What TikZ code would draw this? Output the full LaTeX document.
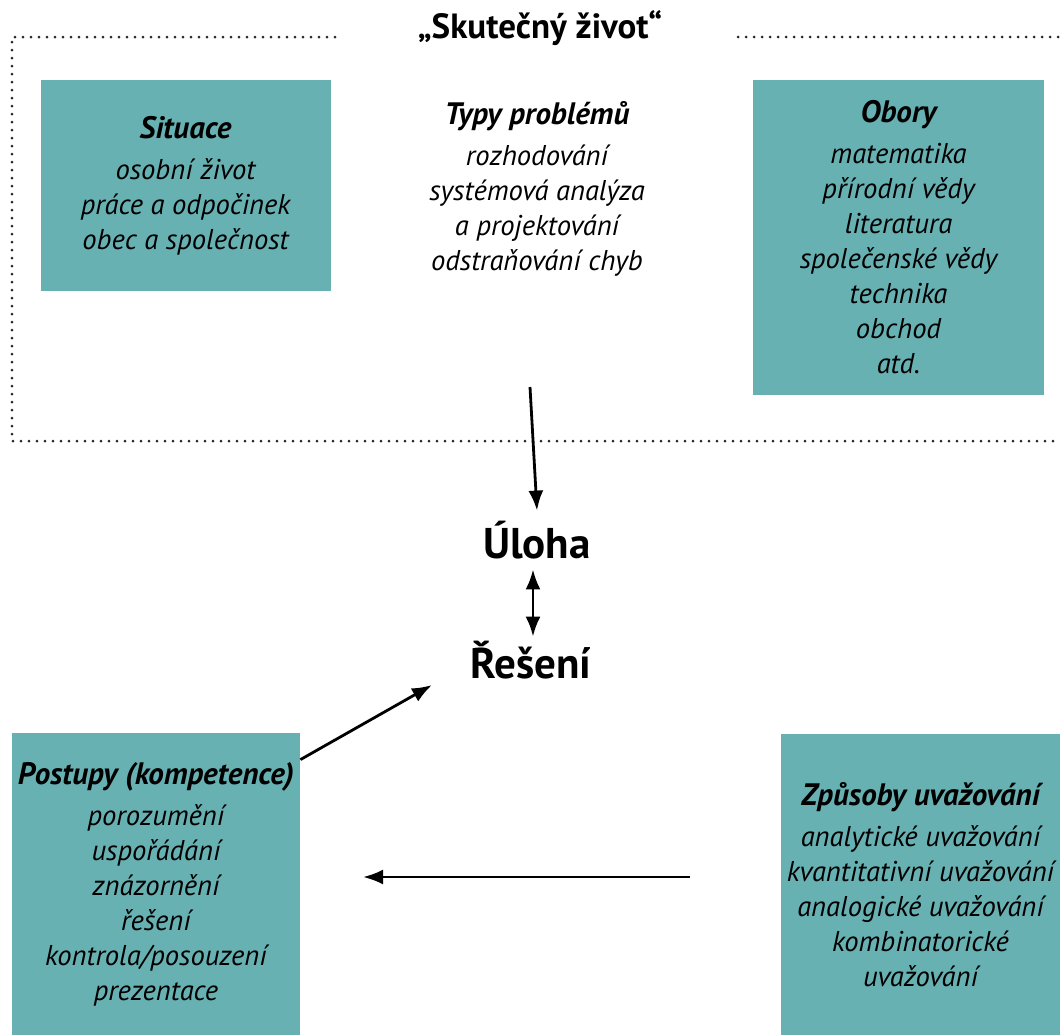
\documentclass[tikz,border=0pt]{standalone}
\usepackage{fontspec}
\setmainfont{PT Sans}
\usepackage{xcolor}
\usetikzlibrary{arrows.meta,positioning}

\definecolor{boxteal}{RGB}{104,177,179}

\newcommand{\boxhead}[1]{{\fontsize{15.5}{18}\selectfont\bfseries #1}}

\begin{document}
\begin{tikzpicture}[
    x=0.5pt, y=-0.5pt,
    tealbox/.style={
        fill=boxteal,
        align=center,
        inner sep=0pt,
        font=\fontsize{14.3}{17.5}\selectfont\itshape
    },
    plain/.style={
        align=center,
        inner sep=0pt,
        font=\fontsize{14.3}{17.5}\selectfont\itshape
    },
    bigword/.style={
        inner sep=2pt,
        font=\fontsize{21.5}{24}\selectfont\bfseries
    },
    dotline/.style={
        line width=1.5pt,
        dash pattern=on 0pt off 4pt,
        line cap=round,
        black!85
    },
    arrow/.style={
        -{Latex[length=10pt,width=7.5pt]},
        line width=1.4pt
    },
    twoarrow/.style={
        {Latex[length=10pt,width=7.5pt]}-{Latex[length=10pt,width=7.5pt]},
        line width=1.4pt
    }
]
\useasboundingbox (0,0) rectangle (1060,1035);

% Title and dotted frame
\node[font=\fontsize{17.5}{20}\selectfont\bfseries] (title) at (540,28)
{„Skutečný život“};

\coordinate (tl) at (12,37);
\coordinate (bl) at (12,441);
\coordinate (gapL) at (335,37);
\coordinate (gapR) at (738,37);
\coordinate (tr) at (1060,37);
\coordinate (br) at (1060,441);

\draw[dotline] (gapL) -- (tl) -- (bl) -- (br);
\draw[dotline] (gapR) -- (tr);

% Top row
\node[tealbox, minimum width=145pt, minimum height=105.5pt] (situace) at (185.5,185.5)
{\boxhead{Situace}\\[3pt]
osobní život\\
práce a odpočinek\\
obec a společnost};

\node[plain] (typy) at (537,189)
{\boxhead{Typy problémů}\\[3pt]
rozhodování\\
systémová analýza\\
a projektování\\
odstraňování chyb};

\node[tealbox, minimum width=145.5pt, minimum height=157.5pt] (obory) at (898.5,237.5)
{\boxhead{Obory}\\[3pt]
matematika\\
přírodní vědy\\
literatura\\
společenské vědy\\
technika\\
obchod\\
atd.};

% Centre
\node[bigword] (uloha) at (537,540) {Úloha};
\node[bigword] (reseni) at (531,660) {Řešení};

% Bottom row
\node[tealbox, minimum width=144pt, minimum height=151pt] (postupy) at (156,884)
{\boxhead{Postupy (kompetence)}\\[3pt]
porozumění\\
uspořádání\\
znázornění\\
řešení\\
kontrola/posouzení\\
prezentace};

\node[tealbox, minimum width=139.5pt, minimum height=150.5pt] (zpusoby) at (920.5,884.5)
{\boxhead{Způsoby uvažování}\\[3pt]
analytické uvažování\\
kvantitativní uvažování\\
analogické uvažování\\
kombinatorické\\
uvažování};

% Connectors
\coordinate (typyout) at (530,387);
\draw[arrow] (typyout) -- ([yshift=3pt]uloha.north);
\draw[twoarrow] ([xshift=-2pt,yshift=-3pt]uloha.south) -- ([xshift=-2pt]uloha.south |- reseni.north);

\coordinate (toreseni) at (432,685);
\draw[arrow] ([yshift=-13.5pt]postupy.north east) -- (toreseni);

\coordinate (zpout) at (690,877);
\coordinate (postin) at (363,877);
\draw[arrow] (zpout) -- (postin);

\end{tikzpicture}
\end{document}
